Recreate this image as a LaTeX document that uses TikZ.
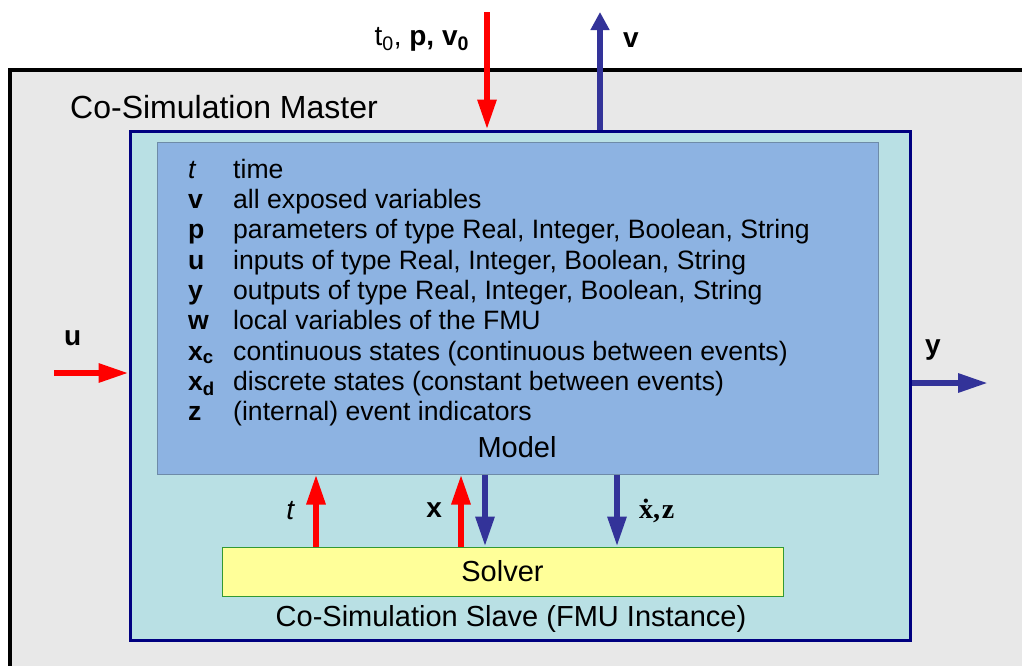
\documentclass[tikz,border=0pt]{standalone}
\usepackage{fontspec}
\setmainfont{Liberation Sans}
\newfontfamily\serifface{Liberation Serif}
\usetikzlibrary{matrix,arrows.meta,positioning}
\definecolor{masterbg}{HTML}{E8E8E8}
\definecolor{slavebg}{HTML}{B9E0E4}
\definecolor{slaveline}{HTML}{000080}
\definecolor{modelbg}{HTML}{8DB3E2}
\definecolor{modelline}{HTML}{6E8BA8}
\definecolor{solverbg}{HTML}{FFFF99}
\definecolor{solverline}{HTML}{339933}
\definecolor{arrred}{HTML}{FF0000}
\definecolor{arrblue}{HTML}{333399}

\begin{document}
\begin{tikzpicture} [x=1pt, y=-1pt
  , box/.style={rectangle, inner sep=0pt}
  , lbl/.style={inner sep=0pt, font=\fontsize{28}{32}\selectfont}
  , inarrow/.style={draw=arrred, line width=6pt, -{Triangle[length=30pt,width=18pt]}}
  , outarrow/.style={draw=arrblue, line width=6pt, -{Triangle[length=30pt,width=18pt]}}
]
  \useasboundingbox (0,0) rectangle (1022,665);
  \clip (0,0) rectangle (1022,665);
  \fill[white] (0,0) rectangle (1022,665);

  % boxes
  \node (master) [box, draw=black, fill=masterbg, line width=4pt
    , minimum width=1030pt, minimum height=630pt] at (525,385) {};
  \node (slave) [box, draw=slaveline, fill=slavebg, line width=3pt
    , minimum width=780pt, minimum height=509pt] at (520,385.5) {};
  \node (model) [box, draw=modelline, fill=modelbg, line width=1pt
    , minimum width=721pt, minimum height=332pt] at (517.5,308) {};
  \node (solver) [box, draw=solverline, fill=solverbg, line width=1pt
    , minimum width=561pt, minimum height=49pt
    , font=\fontsize{29}{32}\selectfont] at (502.5,571.5) {Solver};

  \node (mastertitle) [lbl, anchor=west, font=\fontsize{32}{36}\selectfont]
    at (70,107) {Co-Simulation Master};
  \node (slavetitle) [lbl, font=\fontsize{29}{32}\selectfont]
    at (511,619) {Co-Simulation Slave (FMU Instance)};
  \node (modeltitle) [lbl, font=\fontsize{29}{32}\selectfont]
    at (517,447) {Model};

  \matrix (vars) [
    matrix of nodes
    , anchor=north west
    , inner sep=0pt
    , row sep=5.3pt
    , column sep=0pt
    , nodes={inner sep=0pt, anchor=base west, text height=19pt, text depth=6pt
      , font=\fontsize{26.6}{30}\selectfont}
    , column 1/.style={nodes={text width=45pt}}
  ] at (188,159) {
    \textit{t} & time \\
    \textbf{v} & all exposed variables \\
    \textbf{p} & parameters of type Real, Integer, Boolean, String \\
    \textbf{u} & inputs of type Real, Integer, Boolean, String \\
    \textbf{y} & outputs of type Real, Integer, Boolean, String \\
    \textbf{w} & local variables of the FMU \\
    \textbf{x\textsubscript{c}} & continuous states (continuous between events) \\
    \textbf{x\textsubscript{d}} & discrete states (constant between events) \\
    \textbf{z} & (internal) event indicators \\
  };

  % free ends and columns
  \coordinate (paramin) at (487,12);
  \coordinate (varsout) at (600,12);
  \coordinate (uin) at (54,373);
  \coordinate (yout) at (988,383);
  \coordinate (tcol) at (316,0);
  \coordinate (xcol) at (461,0);
  \coordinate (dercol) at (485,0);
  \coordinate (evcol) at (617,0);

  % master <-> slave
  \draw[inarrow] (paramin) -- node[lbl, pos=0.235, left=15pt]
    {t\textsubscript{0}, \textbf{p, v\textsubscript{0}}} (paramin |- slave.north);
  \draw[outarrow, -{Triangle[length=18pt,width=18pt]}] (slave.north -| varsout)
    -- node[lbl, pos=0.765, right=20pt]{\textbf{v}} (varsout);
  \draw[inarrow] (uin) -- node[lbl, pos=0.25, above=24pt]{\textbf{u}} (uin -| slave.west);
  \draw[outarrow] (slave.east |- yout) -- node[lbl, pos=0.28, above=20pt]{\textbf{y}} (yout);

  % solver <-> model
  \draw[inarrow] (tcol |- solver.north) -- node[lbl, left=18pt]{\textit{t}} (tcol |- model.south);
  \draw[inarrow] (xcol |- solver.north) -- node[lbl, left=16pt]{\textbf{x}} (xcol |- model.south);
  \draw[outarrow] (dercol |- model.south) -- (dercol |- solver.north);
  \draw[outarrow] (evcol |- model.south) -- node[lbl, right=19pt]
    {\serifface\bfseries \.{x},\kern2pt z} (evcol |- solver.north);
\end{tikzpicture}
\end{document}
